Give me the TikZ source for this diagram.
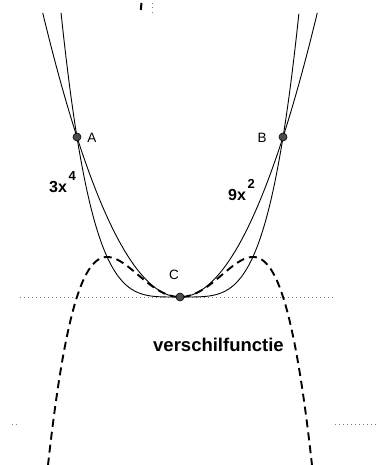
\documentclass[tikz,border=0pt]{standalone}
\usepackage{fontspec}
\setmainfont{Liberation Sans}
\begin{document}
\begin{tikzpicture}[x=1pt,y=-1pt,
  curve/.style={line width=0.9pt,black,smooth},
  diffcurve/.style={line width=1.9pt,black,smooth,dash pattern=on 8pt off 5pt},
  dotline/.style={line width=0.9pt,gray,dash pattern=on 1pt off 3pt},
  pt/.style={circle,draw=black,fill=black!70,line width=0.6pt,inner sep=0pt,minimum size=8pt},
  ptlabel/.style={font=\fontsize{13.5}{13.5}\selectfont,inner sep=0pt},
  fnlabel/.style={font=\fontsize{16}{16}\selectfont\bfseries,inner sep=0pt},
  suplabel/.style={font=\fontsize{13}{13}\selectfont\bfseries,inner sep=0pt}]
\useasboundingbox (0,0) rectangle (381,465);
% dotted lines
\coordinate (h1) at (20,297);
\coordinate (h2) at (336,297);
\draw[dotline] (h1) -- (h2);
\coordinate (l1) at (12,424);
\coordinate (l2) at (19,424);
\draw[dotline] (l1) -- (l2);
\coordinate (r1) at (335,424);
\coordinate (r2) at (379,424);
\draw[dotline] (r1) -- (r2);
% top marks
\coordinate (m1) at (141.5,3);
\coordinate (m2) at (140.8,10);
\draw[line width=2pt] (m1) -- (m2);
\coordinate (d1) at (152,3);
\coordinate (d2) at (152,13);
\draw[line width=0.9pt,gray,dash pattern=on 1pt off 3.5pt] (d1) -- (d2);
% curves
\draw[curve] plot[domain=-1.999:1.999,samples=120] ({180+59.5*\x},{297-5.93*3*(\x)^4});
\draw[curve] plot[domain=-2.307:2.307,samples=120] ({180+59.5*\x},{297-5.93*9*(\x)^2});
\draw[diffcurve] plot[domain=-2.219:2.219,samples=150] ({180+59.5*\x},{297-5.93*(9*(\x)^2-3*(\x)^4)});
% points
\node[pt] (A) at (77,137) {};
\node[pt] (B) at (283,137) {};
\node[pt] (C) at (180,297) {};
\node[ptlabel] (Al) at (92,138) {A};
\node[ptlabel] (Bl) at (262,138) {B};
\node[ptlabel] (Cl) at (174,275) {C};
\node[fnlabel,anchor=base west] (f1) at (49,192) {3x};
\node[suplabel,anchor=base west] (f1s) at (68.5,180) {4};
\node[fnlabel,anchor=base west] (f2) at (228,200) {9x};
\node[suplabel,anchor=base west] (f2s) at (247.5,188) {2};
\node[fnlabel,font=\fontsize{18.5}{18.5}\selectfont\bfseries,anchor=base west] (vf) at (153,351) {verschilfunctie};
\end{tikzpicture}
\end{document}
